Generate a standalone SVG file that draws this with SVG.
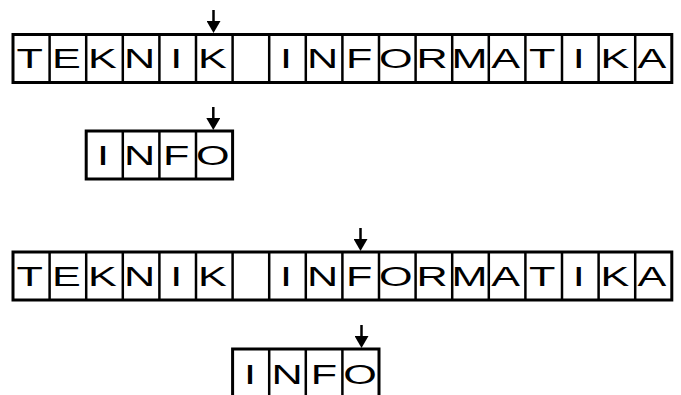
<svg xmlns="http://www.w3.org/2000/svg" width="681" height="395" viewBox="0 0 681 395">
<style>
.box{fill:#fff;stroke:#000;stroke-width:3}
.div{stroke:#000;stroke-width:2.5}
.ch{font-family:"Liberation Sans",Arial,sans-serif;font-size:27px;fill:#000;text-anchor:middle}
.arr{stroke:#000;stroke-width:2.5;fill:none}
</style>
<defs>
<marker id="ah" markerUnits="userSpaceOnUse" markerWidth="12" markerHeight="14" viewBox="0 0 12 14" refX="0" refY="7" orient="auto">
<path d="M0,0 L12,7 L0,14 z" fill="#000"/>
</marker>
</defs>
<rect width="681" height="395" fill="#fff"/>

<g id="row1">
<rect class="box" x="13" y="34.5" width="658.8" height="48"/>
<g class="div">
<line x1="49.6" y1="34.5" x2="49.6" y2="82.5"/><line x1="86.2" y1="34.5" x2="86.2" y2="82.5"/><line x1="122.8" y1="34.5" x2="122.8" y2="82.5"/><line x1="159.4" y1="34.5" x2="159.4" y2="82.5"/><line x1="196" y1="34.5" x2="196" y2="82.5"/><line x1="232.6" y1="34.5" x2="232.6" y2="82.5"/><line x1="269.2" y1="34.5" x2="269.2" y2="82.5"/><line x1="305.8" y1="34.5" x2="305.8" y2="82.5"/><line x1="342.4" y1="34.5" x2="342.4" y2="82.5"/><line x1="379" y1="34.5" x2="379" y2="82.5"/><line x1="415.6" y1="34.5" x2="415.6" y2="82.5"/><line x1="452.2" y1="34.5" x2="452.2" y2="82.5"/><line x1="488.8" y1="34.5" x2="488.8" y2="82.5"/><line x1="525.4" y1="34.5" x2="525.4" y2="82.5"/><line x1="562" y1="34.5" x2="562" y2="82.5"/><line x1="598.6" y1="34.5" x2="598.6" y2="82.5"/><line x1="635.2" y1="34.5" x2="635.2" y2="82.5"/>
</g>
<text class="ch" transform="translate(29.8,68) scale(1.6,1)">T</text>
<text class="ch" transform="translate(66.4,68) scale(1.6,1)">E</text>
<text class="ch" transform="translate(102.5,68) scale(1.6,1)">K</text>
<text class="ch" transform="translate(139.6,68) scale(1.6,1)">N</text>
<text class="ch" transform="translate(176.2,68) scale(1.6,1)">I</text>
<text class="ch" transform="translate(212.3,68) scale(1.6,1)">K</text>
<text class="ch" transform="translate(286,68) scale(1.6,1)">I</text>
<text class="ch" transform="translate(322.6,68) scale(1.6,1)">N</text>
<text class="ch" transform="translate(359.2,68) scale(1.6,1)">F</text>
<text class="ch" transform="translate(395.8,68) scale(1.6,1)">O</text>
<text class="ch" transform="translate(432,68) scale(1.6,1)">R</text>
<text class="ch" transform="translate(469.5,68) scale(1.6,1)">M</text>
<text class="ch" transform="translate(505.6,68) scale(1.6,1)">A</text>
<text class="ch" transform="translate(542.2,68) scale(1.6,1)">T</text>
<text class="ch" transform="translate(578.8,68) scale(1.6,1)">I</text>
<text class="ch" transform="translate(615,68) scale(1.6,1)">K</text>
<text class="ch" transform="translate(652,68) scale(1.6,1)">A</text>
</g>

<g id="row2">
<rect class="box" x="86.2" y="131" width="146.4" height="48"/>
<g class="div">
<line x1="122.8" y1="131" x2="122.8" y2="179"/><line x1="159.4" y1="131" x2="159.4" y2="179"/><line x1="196" y1="131" x2="196" y2="179"/>
</g>
<text class="ch" transform="translate(103,165) scale(1.6,1)">I</text>
<text class="ch" transform="translate(139.6,165) scale(1.6,1)">N</text>
<text class="ch" transform="translate(176.2,165) scale(1.6,1)">F</text>
<text class="ch" transform="translate(212.8,165) scale(1.6,1)">O</text>
</g>

<g id="row3">
<rect class="box" x="13" y="252" width="658.8" height="48"/>
<g class="div">
<line x1="49.6" y1="252" x2="49.6" y2="300"/><line x1="86.2" y1="252" x2="86.2" y2="300"/><line x1="122.8" y1="252" x2="122.8" y2="300"/><line x1="159.4" y1="252" x2="159.4" y2="300"/><line x1="196" y1="252" x2="196" y2="300"/><line x1="232.6" y1="252" x2="232.6" y2="300"/><line x1="269.2" y1="252" x2="269.2" y2="300"/><line x1="305.8" y1="252" x2="305.8" y2="300"/><line x1="342.4" y1="252" x2="342.4" y2="300"/><line x1="379" y1="252" x2="379" y2="300"/><line x1="415.6" y1="252" x2="415.6" y2="300"/><line x1="452.2" y1="252" x2="452.2" y2="300"/><line x1="488.8" y1="252" x2="488.8" y2="300"/><line x1="525.4" y1="252" x2="525.4" y2="300"/><line x1="562" y1="252" x2="562" y2="300"/><line x1="598.6" y1="252" x2="598.6" y2="300"/><line x1="635.2" y1="252" x2="635.2" y2="300"/>
</g>
<text class="ch" transform="translate(29.8,286) scale(1.6,1)">T</text>
<text class="ch" transform="translate(66.4,286) scale(1.6,1)">E</text>
<text class="ch" transform="translate(102.5,286) scale(1.6,1)">K</text>
<text class="ch" transform="translate(139.6,286) scale(1.6,1)">N</text>
<text class="ch" transform="translate(176.2,286) scale(1.6,1)">I</text>
<text class="ch" transform="translate(212.3,286) scale(1.6,1)">K</text>
<text class="ch" transform="translate(286,286) scale(1.6,1)">I</text>
<text class="ch" transform="translate(322.6,286) scale(1.6,1)">N</text>
<text class="ch" transform="translate(359.2,286) scale(1.6,1)">F</text>
<text class="ch" transform="translate(395.8,286) scale(1.6,1)">O</text>
<text class="ch" transform="translate(432,286) scale(1.6,1)">R</text>
<text class="ch" transform="translate(469.5,286) scale(1.6,1)">M</text>
<text class="ch" transform="translate(505.6,286) scale(1.6,1)">A</text>
<text class="ch" transform="translate(542.2,286) scale(1.6,1)">T</text>
<text class="ch" transform="translate(578.8,286) scale(1.6,1)">I</text>
<text class="ch" transform="translate(615,286) scale(1.6,1)">K</text>
<text class="ch" transform="translate(652,286) scale(1.6,1)">A</text>
</g>

<g id="row4">
<rect class="box" x="232.6" y="349" width="146.4" height="48"/>
<g class="div">
<line x1="269.2" y1="349" x2="269.2" y2="397"/><line x1="305.8" y1="349" x2="305.8" y2="397"/><line x1="342.4" y1="349" x2="342.4" y2="397"/>
</g>
<text class="ch" transform="translate(250,384) scale(1.6,1)">I</text>
<text class="ch" transform="translate(287,384) scale(1.6,1)">N</text>
<text class="ch" transform="translate(324,384) scale(1.6,1)">F</text>
<text class="ch" transform="translate(360,384) scale(1.6,1)">O</text>
</g>

<g id="connectors">
<line class="arr" x1="213.5" y1="10" x2="213.5" y2="21" marker-end="url(#ah)"/>
<line class="arr" x1="213.3" y1="107" x2="213.3" y2="118" marker-end="url(#ah)"/>
<line class="arr" x1="360.5" y1="228" x2="360.5" y2="239" marker-end="url(#ah)"/>
<line class="arr" x1="361.5" y1="325" x2="361.5" y2="336" marker-end="url(#ah)"/>
</g>
</svg>
